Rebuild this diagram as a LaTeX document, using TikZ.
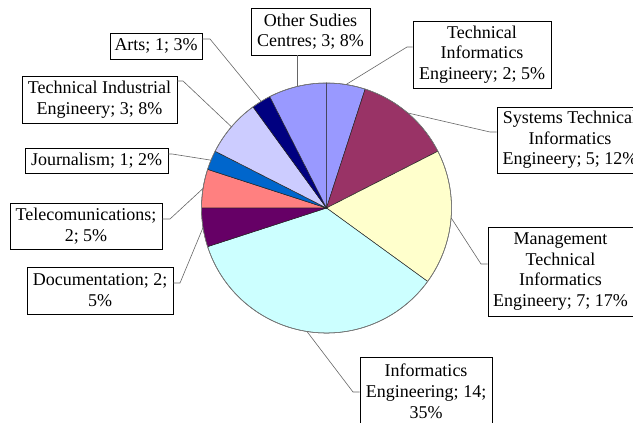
\documentclass[tikz,border=0pt]{standalone}
\usepackage{fontspec}
\setmainfont{Liberation Serif}
\usepackage{tikz}
\usetikzlibrary{calc}
\usetikzlibrary{positioning}
\definecolor{periwinkle}{HTML}{9999FF}
\definecolor{plum}{HTML}{993366}
\definecolor{ltyellow}{HTML}{FFFFCC}
\definecolor{ltturq}{HTML}{CCFFFF}
\definecolor{dkpurple}{HTML}{660066}
\definecolor{coral}{HTML}{FF8080}
\definecolor{ocean}{HTML}{0066CC}
\definecolor{iceblue}{HTML}{CCCCFF}
\definecolor{navyblue}{HTML}{000080}
\newcommand{\boxfont}{\fontsize{18}{20.7}\selectfont}
\tikzset{every text node part/.style={align=center, font=\boxfont}}
\tikzstyle{lbl} = [draw=black, fill=white, inner xsep=3pt, inner ysep=0pt, line width=0.6pt]
\tikzstyle{ldr} = [draw=black!60, line width=0.6pt]
\tikzstyle{slice} = [draw=black!85, line width=0.5pt]

\begin{document}
\begin{tikzpicture}[x=1pt, y=1pt]
  \useasboundingbox (0,0) rectangle (633,423);
  \coordinate (c) at (326.5,215);
  % slices, clockwise from the top
  \filldraw[slice, fill=periwinkle] (c) -- ++(72:125) arc[start angle=72, end angle=90, radius=125] -- cycle;
  \filldraw[slice, fill=plum] (c) -- ++(27:125) arc[start angle=27, end angle=72, radius=125] -- cycle;
  \filldraw[slice, fill=ltyellow] (c) -- ++(-36:125) arc[start angle=-36, end angle=27, radius=125] -- cycle;
  \filldraw[slice, fill=ltturq] (c) -- ++(-162:125) arc[start angle=-162, end angle=-36, radius=125] -- cycle;
  \filldraw[slice, fill=dkpurple] (c) -- ++(-180:125) arc[start angle=-180, end angle=-162, radius=125] -- cycle;
  \filldraw[slice, fill=coral] (c) -- ++(162:125) arc[start angle=162, end angle=180, radius=125] -- cycle;
  \filldraw[slice, fill=ocean] (c) -- ++(153:125) arc[start angle=153, end angle=162, radius=125] -- cycle;
  \filldraw[slice, fill=iceblue] (c) -- ++(126:125) arc[start angle=126, end angle=153, radius=125] -- cycle;
  \filldraw[slice, fill=navyblue] (c) -- ++(117:125) arc[start angle=117, end angle=126, radius=125] -- cycle;
  \filldraw[slice, fill=periwinkle] (c) -- ++(90:125) arc[start angle=90, end angle=117, radius=125] -- cycle;
  \draw[black!50, line width=0.6pt] (c) circle[radius=125];
  % points on the rim
  \coordinate (pTie) at ($(c)+(81:125)$);
  \coordinate (pStie) at ($(c)+(49.5:125)$);
  \coordinate (pMtie) at ($(c)+(-4.5:125)$);
  \coordinate (pIe) at ($(c)+(-99:125)$);
  \coordinate (pDoc) at ($(c)+(-171:125)$);
  \coordinate (pTel) at ($(c)+(171:125)$);
  \coordinate (pJour) at ($(c)+(157.5:125)$);
  \coordinate (pTinde) at ($(c)+(139.5:125)$);
  \coordinate (pArts) at ($(c)+(121.5:125)$);
  \coordinate (pOther) at ($(c)+(103.5:125)$);
  % labels
  \node[lbl, minimum width=119, minimum height=47] (other) at (310.5,391.5) {Other Sudies\\Centres; 3; 8\%};
  \node[lbl, minimum width=92, minimum height=26] (arts) at (156,377) {Arts; 1; 3\%};
  \node[lbl, minimum width=155, minimum height=47] (tinde) at (99.5,323.5) {Technical Industrial\\Engineery; 3; 8\%};
  \node[lbl, minimum width=143, minimum height=25] (jour) at (96.5,262.5) {Journalism; 1; 2\%};
  \node[lbl, minimum width=152, minimum height=46] (tel) at (86,197) {Telecomunications;\\2; 5\%};
  \node[lbl, minimum width=146, minimum height=47] (doc) at (100,132.5) {Documentation; 2;\\5\%};
  \node[lbl, minimum width=132, minimum height=68, anchor=north] (ie) at (426,66) {Informatics\\Engineering; 14;\\35\%};
  \node[lbl, minimum width=145, minimum height=89] (mtie) at (560.5,151.5) {Management\\Technical\\Informatics\\Engineery; 7; 17\%};
  \node[lbl, minimum width=146, minimum height=66] (stie) at (570,283) {Systems Technical\\Informatics\\Engineery; 5; 12\%};
  \node[lbl, minimum width=138, minimum height=67] (tie) at (482,368.5) {Technical\\Informatics\\Engineery; 2; 5\%};
  % leader lines
  \coordinate (kArts) at (210,384);
  \coordinate (kTinde) at (183,342);
  \coordinate (kJour) at (172,269);
  \coordinate (kTel) at (170,204);
  \coordinate (kDoc) at (180,140);
  \coordinate (kTie) at (407,376);
  \coordinate (kStie) at (490,291);
  \coordinate (kMtie) at (481,159);
  \coordinate (kIe) at (353,31);
  \path[ldr] (other.south -| pOther) -- (pOther);
  \path[ldr] (arts.east |- kArts) -- (kArts) -- (pArts);
  \path[ldr] (tinde.east |- kTinde) -- (kTinde) -- (pTinde);
  \path[ldr] (jour.east |- kJour) -- (kJour) -- (pJour);
  \path[ldr] (tel.east |- kTel) -- (kTel) -- (pTel);
  \path[ldr] (doc.east |- kDoc) -- (kDoc) -- (pDoc);
  \path[ldr] (tie.west |- kTie) -- (kTie) -- (pTie);
  \path[ldr] (stie.west |- kStie) -- (kStie) -- (pStie);
  \path[ldr] (mtie.west |- kMtie) -- (kMtie) -- (pMtie);
  \path[ldr] (ie.west |- kIe) -- (kIe) -- (pIe);
\end{tikzpicture}
\end{document}
